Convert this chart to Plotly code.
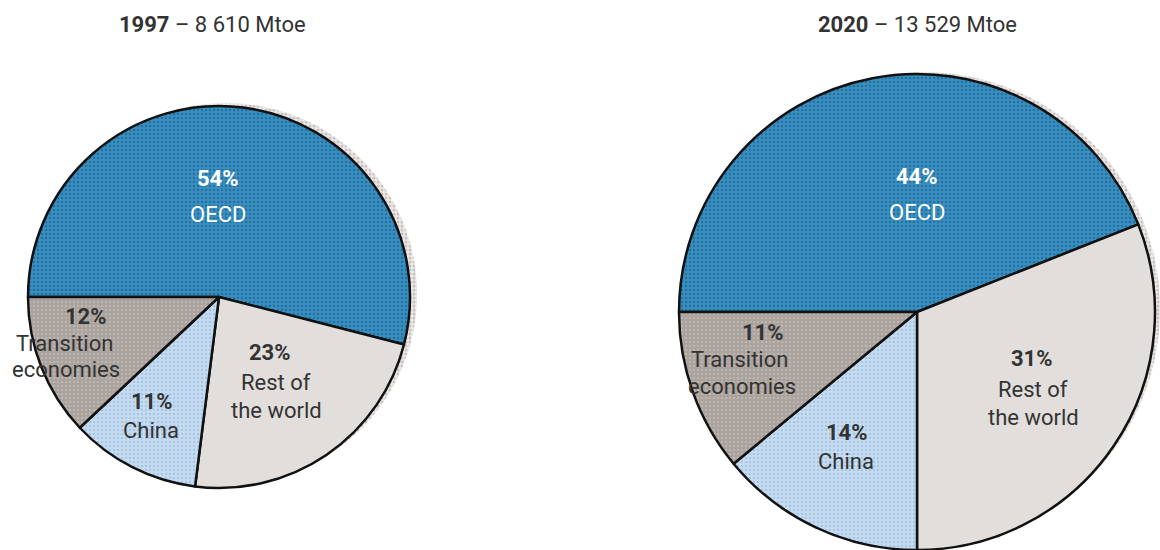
import plotly.graph_objects as go

# ---- data ----
regions = ["OECD", "Rest of the world", "China", "Transition economies"]
shares_1997 = [54, 23, 11, 12]
shares_2020 = [44, 31, 14, 11]
years = ["1997", "2020"]
totals = ["8 610", "13 529"]
label_lines = {
    "OECD": ["OECD"],
    "Rest of the world": ["Rest of", "the world"],
    "China": ["China"],
    "Transition economies": ["Transition", "economies"],
}

# ---- styles ----
W, H = 1160, 550
colors = ["#3a8ec0", "#e2dedb", "#c6dcf0", "#aaa29d"]
pat_fg = ["#2272a0", "#e2dedb", "#a9c5e6", "#bdb5b0"]
pat_shape = [".", "", ".", "."]
text_col = "#333333"
FONT = "Roboto, Liberation Sans, sans-serif"

# pie geometry in px (center x, center y from top, radius)
geoms = [(219, 297, 191), (917, 312, 238)]
shadow_off = (7, -3)

# label layout positions (px, from top) per pie: [pct position, text line positions...]
label_pos = [
    {"OECD": (218, 178, [(218, 214)]),
     "Rest of the world": (270, 352, [(276, 382), (276, 410)]),
     "China": (152, 401, [(151, 430)]),
     "Transition economies": (86, 316, [(64, 343), (66, 369)])},
    {"OECD": (917, 176, [(917, 213)]),
     "Rest of the world": (1032, 358, [(1033, 389), (1033, 417)]),
     "China": (847, 432, [(846, 461)]),
     "Transition economies": (763, 332, [(739, 359), (742, 386)])},
]
title_pos = [(212, 25), (917, 25)]


def domain(cx, cy, r, dx=0, dy=0):
    x0 = (cx - r + dx) / W
    x1 = (cx + r + dx) / W
    yb = H - (cy + dy)
    y0 = max(0.0, (yb - r) / H)
    y1 = min(1.0, (yb + r) / H)
    return dict(x=[max(0.0, x0), min(1.0, x1)], y=[y0, y1])


def ann(x, y, text, size, color):
    return dict(x=x / W, y=1 - y / H, xref="paper", yref="paper", xanchor="center",
                yanchor="middle", text=text, showarrow=False,
                font=dict(family=FONT, size=size, color=color))


fig = go.Figure()
annotations = []
for i, shares in enumerate([shares_1997, shares_2020]):
    cx, cy, r = geoms[i]
    # shadow
    fig.add_trace(go.Pie(
        values=[1], labels=["shadow"], sort=False, textinfo="none", hoverinfo="skip",
        domain=domain(cx, cy, r, shadow_off[0], shadow_off[1]),
        marker=dict(colors=["#f1eeed"], line=dict(width=0),
                    pattern=dict(shape=".", fgcolor="#c9c2bf", bgcolor="#eeebea",
                                 size=4, solidity=0.45)),
    ))
    fig.add_trace(go.Pie(
        values=shares, labels=regions, sort=False, direction="clockwise", rotation=270,
        textinfo="none", hoverinfo="label+value",
        domain=domain(cx, cy, r),
        marker=dict(colors=colors, line=dict(color="#111111", width=2.5),
                    pattern=dict(shape=pat_shape, fgcolor=pat_fg, bgcolor=colors,
                                 size=4, solidity=0.3)),
    ))
    for reg, val in zip(regions, shares):
        px, py, lines = label_pos[i][reg]
        col = "white" if reg == "OECD" else text_col
        annotations.append(ann(px, py, f"<b>{val}%</b>", 22, col))
        for (lx, ly), line in zip(lines, label_lines[reg]):
            annotations.append(ann(lx, ly, line, 22, col))
    tx, ty = title_pos[i]
    annotations.append(ann(tx, ty, f"<b>{years[i]}</b> – {totals[i]} Mtoe", 22, text_col))

fig.update_layout(width=W, height=H, margin=dict(l=0, r=0, t=0, b=0),
                  showlegend=False, paper_bgcolor="white", plot_bgcolor="white",
                  annotations=annotations)
fig.write_html("out.html", config={"displayModeBar": False},
               post_script="document.body.style.margin='0px';")
